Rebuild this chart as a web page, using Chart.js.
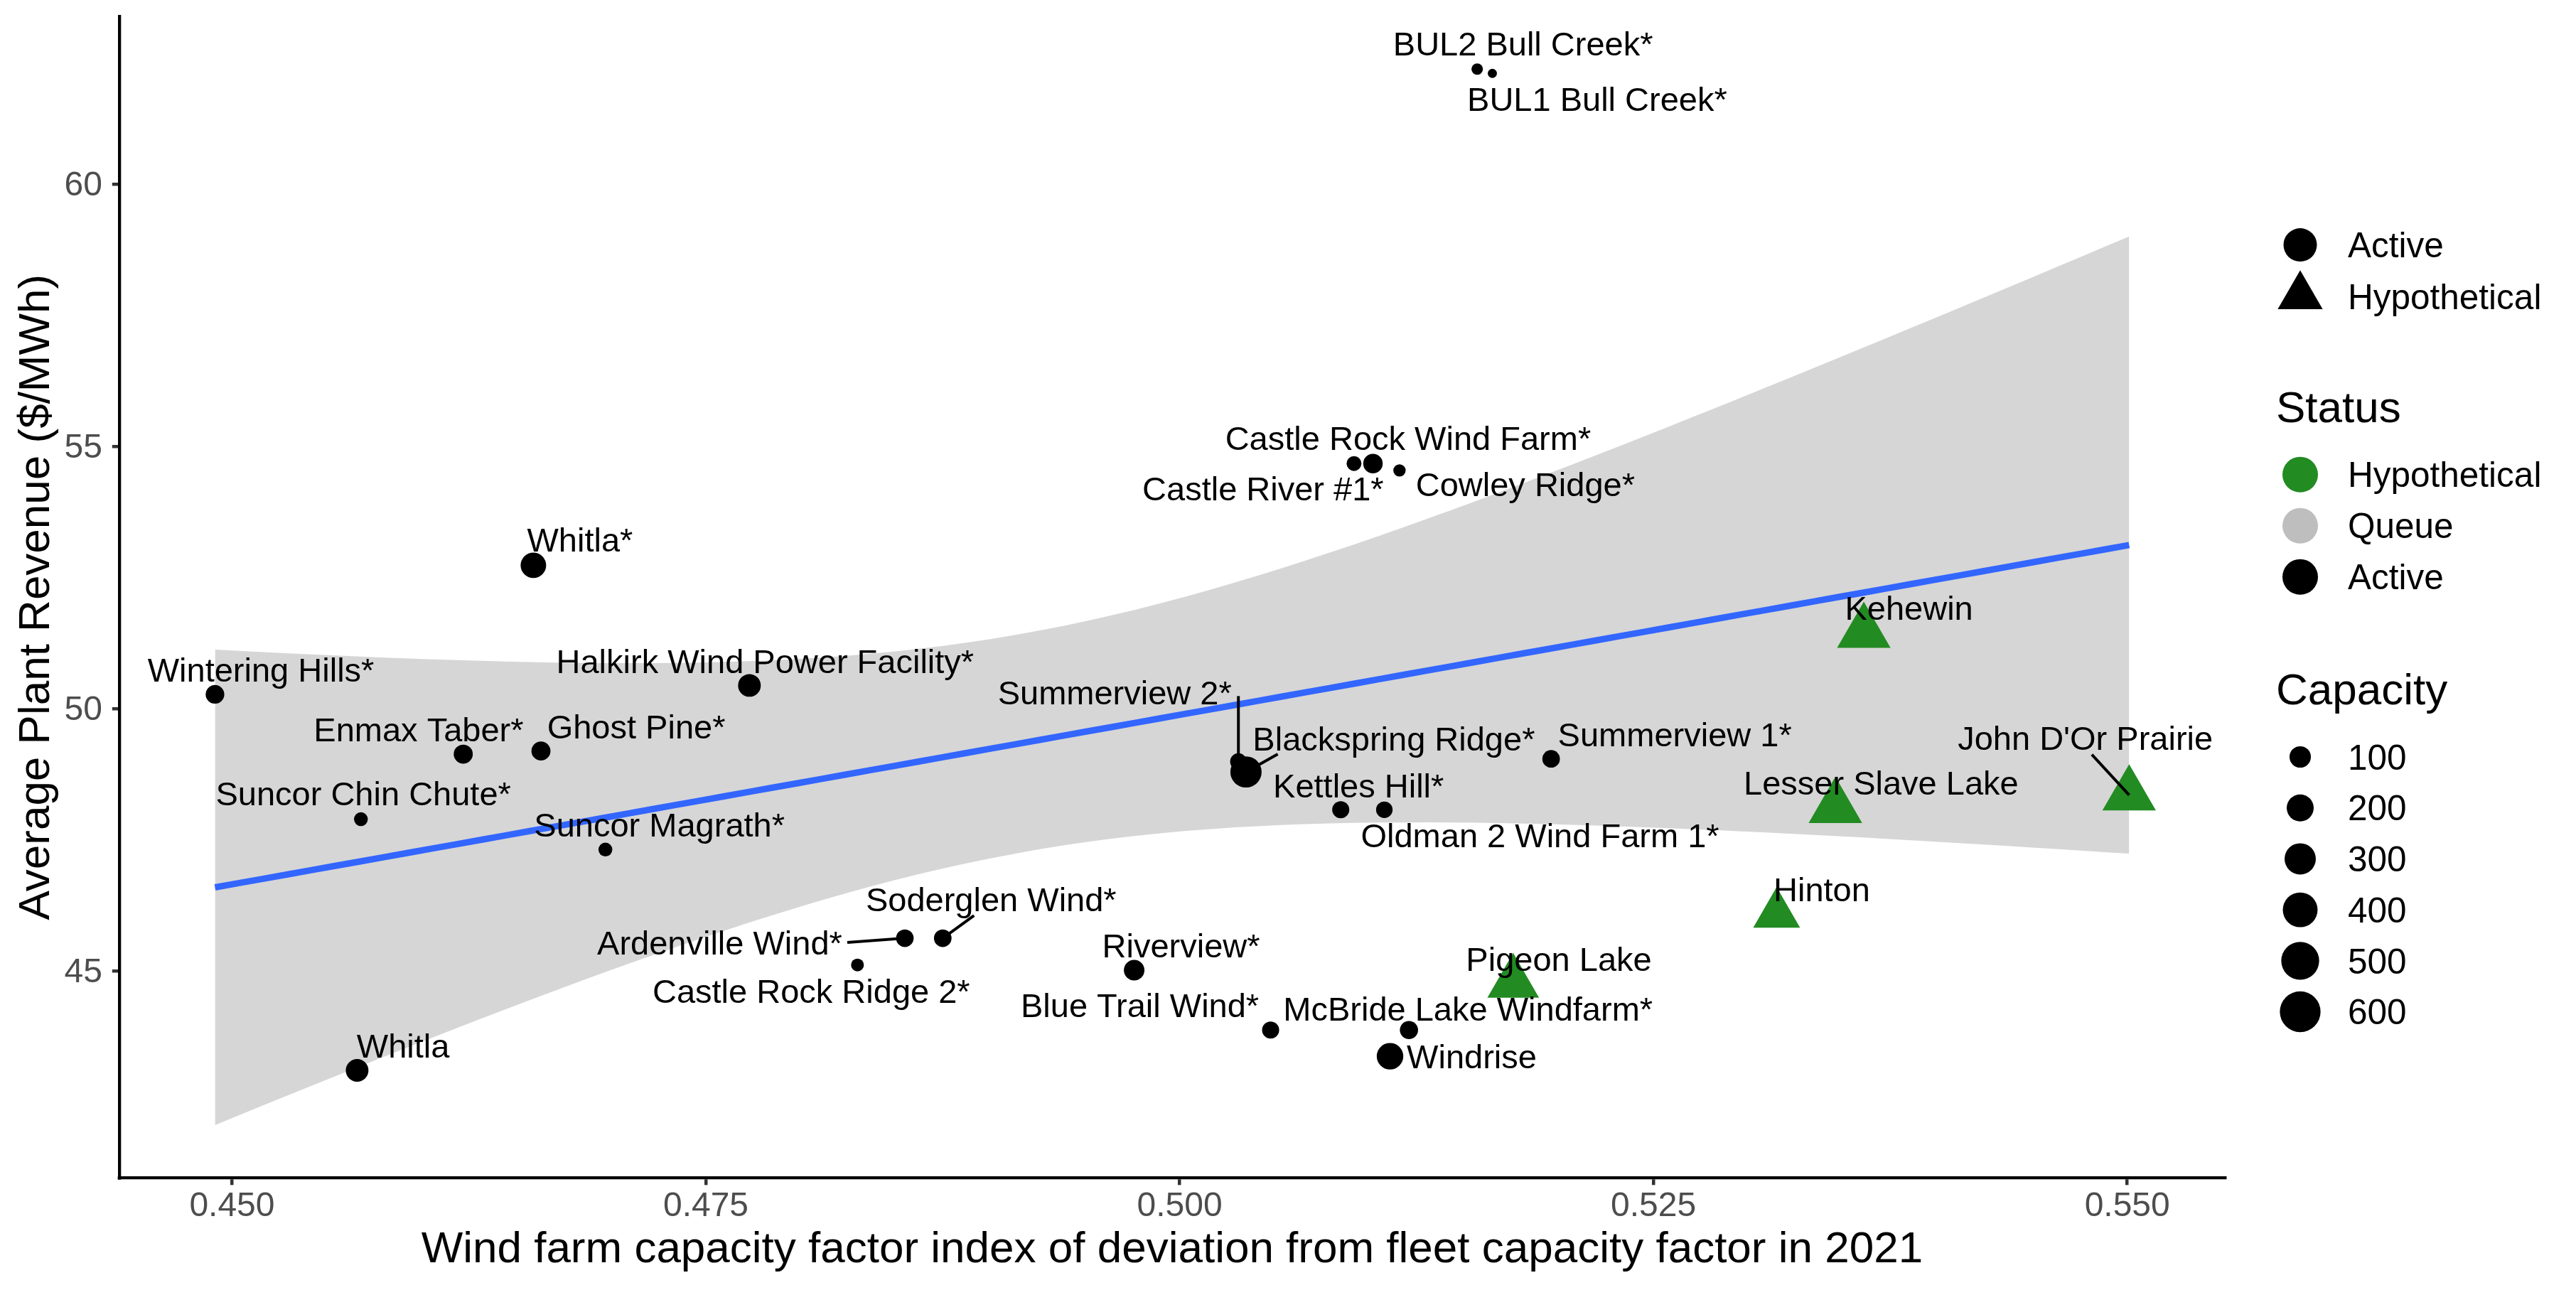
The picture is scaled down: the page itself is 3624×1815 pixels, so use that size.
<!DOCTYPE html>
<html><head><meta charset="utf-8">
<script src="https://cdn.jsdelivr.net/npm/chart.js@4/dist/chart.umd.min.js"></script>
<style>html,body{margin:0;padding:0;background:#fff;}#wrap{width:3624px;height:1815px;position:relative;}canvas{display:block;}</style>
</head><body><div id="wrap"><canvas id="c" width="3624" height="1815"></canvas></div>
<script>
// ---------------- DATA ----------------
const plantNames = [
  "Wintering Hills*", "Enmax Taber*", "Ghost Pine*", "Suncor Chin Chute*", "Suncor Magrath*",
  "Whitla", "Halkirk Wind Power Facility*", "Whitla*", "BUL2 Bull Creek*", "BUL1 Bull Creek*",
  "Castle River #1*", "Castle Rock Wind Farm*", "Cowley Ridge*", "Summerview 2*", "Blackspring Ridge*",
  "Kettles Hill*", "Oldman 2 Wind Farm 1*", "Summerview 1*", "Soderglen Wind*", "Ardenville Wind*",
  "Castle Rock Ridge 2*", "Riverview*", "Blue Trail Wind*", "McBride Lake Windfarm*", "Windrise",
  "Pigeon Lake", "Kehewin", "Lesser Slave Lake", "John D'Or Prairie", "Hinton"
];
const capacityFactorIndex = [
  0.4491, 0.4622, 0.4663, 0.4568, 0.4697,
  0.4566, 0.4773, 0.4659, 0.5157, 0.5165,
  0.5092, 0.5102, 0.5116, 0.5031, 0.5035,
  0.5085, 0.5108, 0.5196, 0.4875, 0.4855,
  0.4830, 0.4976, 0.5048, 0.5121, 0.5111,
  0.5176, 0.5361, 0.5346, 0.5501, 0.5315
];
const avgRevenue = [
  50.28, 49.14, 49.20, 47.90, 47.32,
  43.11, 50.45, 52.74, 62.20, 62.12,
  54.68, 54.68, 54.55, 49.00, 48.80,
  48.08, 48.08, 49.05, 45.63, 45.63,
  45.12, 45.02, 43.88, 43.88, 43.38,
  44.78, 51.46, 48.12, 48.36, 46.09
];
const capacityMW = [
  65, 70, 70, 25, 25,
  120, 120, 170, 15, 12,
  31, 75, 18, 44, 300,
  49, 44, 54, 54, 54,
  20, 89, 49, 60, 191,
  550, 600, 600, 600, 430
];
const plantStatus = [
  "Active","Active","Active","Active","Active",
  "Active","Active","Active","Active","Active",
  "Active","Active","Active","Active","Active",
  "Active","Active","Active","Active","Active",
  "Active","Active","Active","Active","Active",
  "Hypothetical","Hypothetical","Hypothetical","Hypothetical","Hypothetical"
];
const xTickValues = [0.450, 0.475, 0.500, 0.525, 0.550];
const xTickLabels = ["0.450", "0.475", "0.500", "0.525", "0.550"];
const yTickValues = [45, 50, 55, 60];
const yTickLabels = ["45", "50", "55", "60"];
const shapeLegendLabels = ["Active", "Hypothetical"];
const statusLegendLabels = ["Hypothetical", "Queue", "Active"];
const capacityBreaks = [100, 200, 300, 400, 500, 600];
const xTitle = "Wind farm capacity factor index of deviation from fleet capacity factor in 2021";
const yTitle = "Average Plant Revenue ($/MWh)";

// ---------------- LAYOUT (label placement, px offsets from each point) ----------------
const labelOffsets = [
  [64.6,-34.6], [-62.8,-35], [134,-34], [3.4,-36], [76,-35.6],
  [64.7,-35], [22,-34], [65.5,-36], [64.5,-36], [147.4,35.7],
  [-128,34.5], [49.4,-35.6], [177,19], [-174,-97], [208,-47],
  [25,-34], [219,36], [174,-35], [68,-55], [-260.5,6],
  [-65,36.5], [66,-35], [-184,-35.5], [83,-30], [115,0],
  [64.2,-34], [63.5,-34.7], [64.3,-35], [-61.7,-80.7], [63.5,-35.3]
];
const segmentStarts = {13:[0,-92], 14:[44.7,-25.1], 18:[44,-32], 19:[-81,6], 28:[-52.5,-57]};

const statusColors = {Active:"#000000", Queue:"#BEBEBE", Hypothetical:"#228B22"};
const FONT = '"Liberation Sans", Arial, Helvetica, sans-serif';
const CAP_MID = 0.358; // cap-height middle above baseline, in em

// ---------------- size scale ----------------
const capMin = Math.min(...capacityMW), capMax = Math.max(...capacityMW);
function sizeOf(c){ const t = Math.max(0,(c-capMin)/(capMax-capMin)); return 1 + 5*Math.sqrt(t); }
function circleR(c){ return 4.44*sizeOf(c) + 2; }
function triR(c){ return 6.91*sizeOf(c) + 2; }

// ---------------- linear fit (Active plants) with 95% CI ----------------
function lgamma(z){
  const c=[0.99999999999980993,676.5203681218851,-1259.1392167224028,771.32342877765313,-176.61502916214059,12.507343278686905,-0.13857109526572012,9.9843695780195716e-6,1.5056327351493116e-7];
  if(z<0.5) return Math.log(Math.PI/Math.sin(Math.PI*z)) - lgamma(1-z);
  z-=1; let x=c[0]; for(let i=1;i<9;i++) x+=c[i]/(z+i);
  const t=z+7.5; return 0.5*Math.log(2*Math.PI)+(z+0.5)*Math.log(t)-t+Math.log(x);
}
function tcdf0(T,v){
  const lc=lgamma((v+1)/2)-lgamma(v/2)-0.5*Math.log(v*Math.PI);
  const N=2000,h=T/N; let s=0;
  for(let i=0;i<=N;i++){const x=i*h;const f=Math.exp(lc-(v+1)/2*Math.log(1+x*x/v));s+=(i===0||i===N)?f:(i%2?4*f:2*f);}
  return s*h/3;
}
function qt975(v){let lo=0,hi=10;for(let k=0;k<50;k++){const m=(lo+hi)/2;if(tcdf0(m,v)<0.475)lo=m;else hi=m;}return (lo+hi)/2;}

const actIdx = plantStatus.map((s,i)=>s==="Active"?i:-1).filter(i=>i>=0);
const n = actIdx.length;
const mx = actIdx.reduce((a,i)=>a+capacityFactorIndex[i],0)/n;
const my = actIdx.reduce((a,i)=>a+avgRevenue[i],0)/n;
let sxx=0,sxy=0; actIdx.forEach(i=>{const dx=capacityFactorIndex[i]-mx;sxx+=dx*dx;sxy+=dx*(avgRevenue[i]-my);});
const slope=sxy/sxx, intercept=my-slope*mx;
let rss=0; actIdx.forEach(i=>{const r=avgRevenue[i]-(intercept+slope*capacityFactorIndex[i]);rss+=r*r;});
const sig=Math.sqrt(rss/(n-2)), tq=qt975(n-2);
const xLo=Math.min(...capacityFactorIndex), xHi=Math.max(...capacityFactorIndex);
const fitLine=[], ribUpper=[], ribLower=[];
for(let k=0;k<80;k++){
  const x=xLo+(xHi-xLo)*k/79, yh=intercept+slope*x;
  const se=sig*Math.sqrt(1/n+(x-mx)*(x-mx)/sxx);
  fitLine.push({x,y:yh}); ribUpper.push({x,y:yh+tq*se}); ribLower.push({x,y:yh-tq*se});
}
const yAllLo=Math.min(...avgRevenue,...ribLower.map(p=>p.y));
const yAllHi=Math.max(...avgRevenue,...ribUpper.map(p=>p.y));
const xMin=xLo-0.05*(xHi-xLo), xMax=xHi+0.05*(xHi-xLo);
const yMin=yAllLo-0.05*(yAllHi-yAllLo), yMax=yAllHi+0.05*(yAllHi-yAllLo);

const pts = capacityFactorIndex.map((x,i)=>({x, y:avgRevenue[i]}));

Chart.defaults.font.family = FONT;

function drawTri(ctx,x,y,r){
  ctx.beginPath();
  let a=0; ctx.moveTo(x+Math.sin(a)*r, y-Math.cos(a)*r);
  a+=2*Math.PI/3; ctx.lineTo(x+Math.sin(a)*r, y-Math.cos(a)*r);
  a+=2*Math.PI/3; ctx.lineTo(x+Math.sin(a)*r, y-Math.cos(a)*r);
  ctx.closePath(); ctx.fill();
}
function drawCirc(ctx,x,y,r){ctx.beginPath();ctx.arc(x,y,r,0,2*Math.PI);ctx.fill();}
function textMid(ctx,txt,x,y,size){ctx.font=size+'px '+FONT; ctx.textBaseline='alphabetic'; ctx.fillText(txt,x,y+CAP_MID*size);}

const labelPlugin = {
  id:'labels',
  afterDatasetsDraw(chart){
    const ctx=chart.ctx, xs=chart.scales.x, ys=chart.scales.y;
    ctx.save();
    ctx.strokeStyle='#000'; ctx.lineWidth=4;
    Object.keys(segmentStarts).forEach(k=>{
      const i=+k, px=xs.getPixelForValue(capacityFactorIndex[i]), py=ys.getPixelForValue(avgRevenue[i]);
      const s=segmentStarts[k];
      ctx.beginPath(); ctx.moveTo(px+s[0],py+s[1]); ctx.lineTo(px,py); ctx.stroke();
    });
    ctx.fillStyle='#000'; ctx.textAlign='center';
    plantNames.forEach((nm,i)=>{
      const px=xs.getPixelForValue(capacityFactorIndex[i]), py=ys.getPixelForValue(avgRevenue[i]);
      textMid(ctx, nm, px+labelOffsets[i][0], py+labelOffsets[i][1], 47);
    });
    ctx.restore();
  }
};

const legendPlugin = {
  id:'customLegend',
  afterDraw(chart){
    const ctx=chart.ctx, ca=chart.chartArea;
    ctx.save();
    ctx.fillStyle='#000'; ctx.fillRect(ca.left-2.15, ca.bottom-2.15, 4.3, 4.3);
    const kx=ca.right+106, tx=ca.right+173, hx=ca.right+72;
    ctx.textAlign='left';
    ctx.fillStyle='#000'; drawCirc(ctx,kx,344.6,23.5); drawTri(ctx,kx,416.8,36.5);
    textMid(ctx,shapeLegendLabels[0],tx,344.6,49.5); textMid(ctx,shapeLegendLabels[1],tx,416.8,49.5);
    textMid(ctx,'Status',hx,572,62);
    statusLegendLabels.forEach((s,i)=>{
      const y=667.7+i*72;
      ctx.fillStyle=statusColors[s]; drawCirc(ctx,kx,y,25);
      ctx.fillStyle='#000'; textMid(ctx,s,tx,y,49.5);
    });
    textMid(ctx,'Capacity',hx,968.6,62);
    capacityBreaks.forEach((c,i)=>{
      const y=1065+i*71.7;
      drawCirc(ctx,kx,y,circleR(c));
      textMid(ctx,String(c),tx,y,49.5);
    });
    ctx.restore();
  }
};

new Chart(document.getElementById('c'), {
  type:'scatter',
  data:{datasets:[
    {data:ribUpper, showLine:true, pointRadius:0, borderColor:'rgba(0,0,0,0)', borderWidth:0, fill:'+1', backgroundColor:'rgba(153,153,153,0.4)', order:10},
    {data:ribLower, showLine:true, pointRadius:0, borderColor:'rgba(0,0,0,0)', borderWidth:0, fill:false, order:9},
    {data:fitLine, showLine:true, pointRadius:0, borderColor:'#3366FF', borderWidth:9, fill:false, order:8},
    {data:pts, order:1, borderWidth:0,
      pointStyle:(c)=>plantStatus[c.dataIndex]==='Hypothetical'?'triangle':'circle',
      pointRadius:(c)=>plantStatus[c.dataIndex]==='Hypothetical'?triR(capacityMW[c.dataIndex]):circleR(capacityMW[c.dataIndex]),
      backgroundColor:(c)=>statusColors[plantStatus[c.dataIndex]],
      borderColor:(c)=>statusColors[plantStatus[c.dataIndex]]}
  ]},
  options:{
    responsive:false, animation:false, devicePixelRatio:1, events:[],
    layout:{autoPadding:false, padding:{left:0, top:23, right:494, bottom:0}},
    plugins:{legend:{display:false}, tooltip:{enabled:false}},
    scales:{
      x:{type:'linear', min:xMin, max:xMax,
        afterBuildTicks:(s)=>{s.ticks=xTickValues.map(v=>({value:v}));},
        afterFit:(s)=>{s.height=1815-1657.3; s.paddingLeft=0; s.paddingRight=0;},
        ticks:{callback:(v)=>xTickLabels[xTickValues.indexOf(v)], color:'#4D4D4D', font:{size:48, lineHeight:1}, padding:6.3, maxRotation:0, autoSkip:false},
        grid:{drawOnChartArea:false, drawTicks:true, tickLength:10, color:'#333333', lineWidth:4.5},
        border:{display:true, color:'#000', width:4.3},
        title:{display:true, text:xTitle, color:'#000', font:{size:62, lineHeight:1.2}, padding:{top:0,bottom:18.6}}
      },
      y:{type:'linear', min:yMin, max:yMax,
        afterBuildTicks:(s)=>{s.ticks=yTickValues.map(v=>({value:v}));},
        afterFit:(s)=>{s.width=167.8; s.paddingTop=0; s.paddingBottom=0;},
        ticks:{callback:(v)=>yTickLabels[yTickValues.indexOf(v)], color:'#4D4D4D', font:{size:48, lineHeight:0.15}, padding:13.8, labelOffset:2.3, autoSkip:false},
        grid:{drawOnChartArea:false, drawTicks:true, tickLength:10, color:'#333333', lineWidth:4.5},
        border:{display:true, color:'#000', width:4.3},
        title:{display:true, text:yTitle, color:'#000', font:{size:62, lineHeight:1.2}, padding:{top:14.4,bottom:0}}
      }
    }
  },
  plugins:[labelPlugin, legendPlugin]
});
</script>
</body></html>
